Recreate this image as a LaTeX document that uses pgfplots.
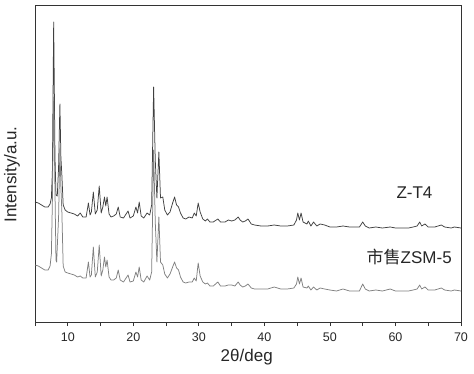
\documentclass[border=0pt]{standalone}
\usepackage{fontspec}
\setmainfont{Liberation Sans}
\newfontfamily\cjk{Noto Sans CJK SC}
\usepackage{pgfplots}
\pgfplotsset{compat=1.18}
\usepackage{pgfplotstable}

\pgfplotstableread{
x y
5.0 120
5.5 119
6.0 117
6.5 115
7.0 115
7.3 118
7.5 124
7.65 150
7.85 300
8.05 165
8.2 127
8.4 126
8.6 155
8.8 218
8.95 165
9.1 147
9.3 117
9.6 112
10.0 110
10.5 109
11.0 108
11.5 106
11.9 109
12.3 105
12.8 105
13.15 119
13.4 107
13.6 110
13.9 130
14.2 108
14.5 112
14.8 136
15.1 109
15.35 115
15.6 125
15.8 116
16.0 125
16.3 108
16.6 105
17.0 106
17.4 108
17.7 115
18.0 105
18.5 104
19.2 111
19.5 104
20.0 106
20.4 115
20.65 109
20.9 120
21.2 106
21.6 104
22.1 109
22.5 107
22.8 117
23.1 235
23.35 162
23.6 124
23.9 170
24.15 124
24.5 125
24.8 112
25.2 107
25.6 110
26.0 119
26.3 125
26.6 117
26.9 115
27.2 109
27.6 104
28.0 103
28.5 105
29.0 104
29.3 109
29.6 106
29.9 119
30.2 110
30.6 103
31.0 101
31.3 103
31.7 100
32.2 100
32.9 103
33.3 100
34.0 100
34.5 102
35.0 101
35.5 102
36.0 105
36.3 102
36.7 100
37.1 101
37.5 103
38.0 98
38.5 97
39.5 96
40.5 96
41.5 97
42.5 96
43.5 96
44.5 97
44.9 102
45.1 109
45.35 102
45.6 109
45.9 100
46.5 98
46.7 101
47.1 96
47.5 100
48.0 96
48.5 98
49.2 97
50.0 95
51.0 95
52.0 96
53.0 95
54.5 95
55.0 100
55.4 96
56.0 94
57.0 95
58.0 94
59.2 95
60.0 94
61.0 94
62.0 94
62.7 95
63.3 96
63.7 100
64.0 96
64.5 98
65.0 95
66.0 95
67.0 97
67.5 95
68.5 94
69.0 95
70.0 94
}\zta

\pgfplotstableread{
x y
5.0 57
5.5 56
6.0 54
6.5 52
7.0 52
7.3 56
7.5 68
7.65 120
7.85 225
8.05 130
8.2 62
8.3 60
8.6 105
8.8 174
8.95 135
9.1 110
9.3 56
9.6 50
10.0 49
10.5 48
11.0 47
11.5 45
11.9 46
12.3 44
12.8 44
13.15 60
13.4 45
13.6 47
13.9 75
14.2 45
14.5 50
14.8 77
15.1 46
15.35 52
15.6 65
15.8 55
16.0 62
16.3 45
16.6 42
17.0 42
17.4 44
17.7 52
18.0 42
18.5 40
19.2 47
19.5 40
20.0 41
20.4 50
20.65 45
20.9 55
21.2 42
21.6 40
22.1 46
22.5 42
22.8 50
23.1 172
23.35 100
23.6 60
23.9 105
24.15 60
24.5 57
24.8 48
25.2 44
25.6 48
26.0 55
26.3 60
26.6 54
26.9 52
27.2 45
27.6 40
28.0 39
28.5 40
29.0 40
29.3 44
29.6 41
29.9 59
30.2 46
30.6 40
31.0 38
31.3 39
31.7 36
32.2 36
32.9 40
33.3 36
34.0 36
34.5 37
35.0 37
35.5 36
36.0 40
36.3 37
36.7 35
37.1 36
37.5 38
38.0 34
38.5 33
39.5 33
40.5 33
41.5 35
42.5 33
43.5 33
44.5 34
44.9 38
45.1 45
45.35 38
45.6 44
45.9 35
46.5 34
46.7 36
47.1 32
47.5 35
48.0 32
48.5 34
49.2 33
50.0 32
51.0 31
52.0 33
53.0 31
54.5 31
55.0 38
55.4 33
56.0 31
57.0 32
58.0 31
59.2 33
60.0 31
61.0 31
62.0 31
62.7 32
63.3 33
63.7 37
64.0 33
64.5 35
65.0 32
66.0 32
67.0 34
67.5 32
68.5 31
69.0 32
70.0 31
}\zsm

\begin{document}
\begin{tikzpicture}
\path[use as bounding box] (-35pt,-51pt) rectangle (439pt,322pt);
\begin{axis}[
  scale only axis,
  width=426pt, height=316.5pt,
  xmin=5, xmax=70, ymin=0, ymax=316.5,
  xtick={10,20,...,70},
  minor xtick={5,15,...,65},
  xtick pos=bottom,
  tick align=outside,
  major tick length=4pt, minor tick length=4pt,
  ytick=\empty,
  axis line style={line width=0.8pt, black!80},
  every tick/.style={black!80, line width=0.7pt},
  /pgf/number format/assume math mode=true,
  ticklabel style={font=\fontsize{12.5}{14}\selectfont, text=black!85},
  xticklabel style={yshift=-3pt},
  xlabel={2θ/deg},
  ylabel={Intensity/a.u.},
  every axis x label/.style={at={(axis description cs:0.497,-0.11)}, anchor=center, font=\fontsize{17}{20}\selectfont, text=black!85},
  every axis y label/.style={at={(axis description cs:-0.054,0.466)}, anchor=center, rotate=90, font=\fontsize{17}{20}\selectfont, text=black!85},
  clip=true,
]
\addplot[line width=0.75pt, black!75, line join=round] table[x=x,y=y] {\zta};
\addplot[line width=0.75pt, black!50, line join=round] table[x=x,y=y] {\zsm};
\node[font=\fontsize{17}{20}\selectfont, text=black!85] at (axis cs:62.9,129) {Z-T4};
\node[font=\fontsize{17}{20}\selectfont, text=black!85] at (axis cs:62.1,65) {{\cjk 市售}ZSM-5};
\end{axis}
\end{tikzpicture}
\end{document}
